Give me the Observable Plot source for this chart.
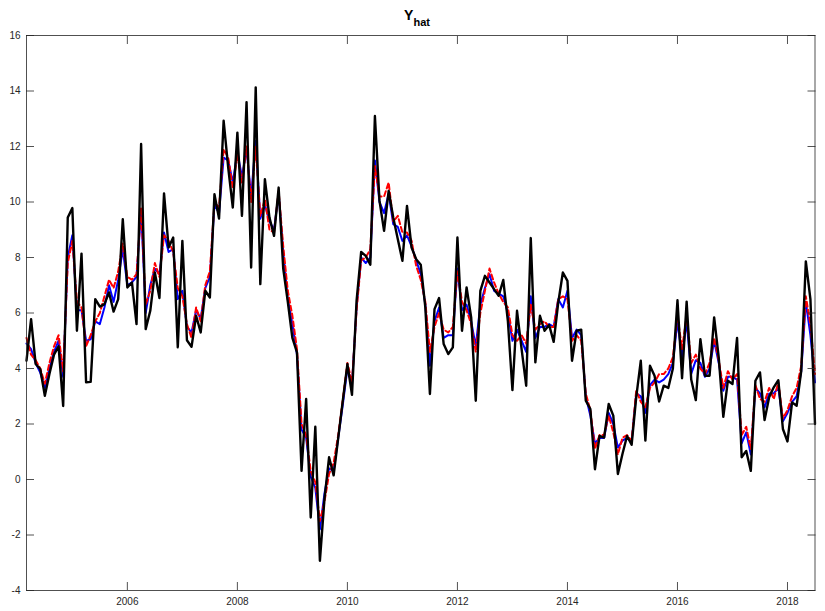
<!DOCTYPE html>
<html><head><meta charset="utf-8">
<script src="https://cdn.jsdelivr.net/npm/d3@7"></script>
<script src="https://cdn.jsdelivr.net/npm/@observablehq/plot@0.6"></script>
<style>body{margin:0;background:#fff;}#chart{width:825px;height:611px;}</style>
</head><body><div id="chart"></div>
<script>
// Monthly data, first observation March 2004
const startYear = 2004;
const startMonth = 3;

const actual = [4.28,5.78,4.16,3.98,3.02,3.8,4.5,4.8,2.65,9.44,
9.78,5.36,8.14,3.5,3.52,6.5,6.23,6.32,6.74,6.05,
6.5,9.38,6.92,7.1,5.6,12.09,5.42,6.08,7.46,6.54,
10.31,8.36,8.72,4.76,8.6,5.02,4.78,5.9,5.3,6.8,
6.56,10.28,9.4,12.93,11.24,9.8,12.5,9.5,13.6,7.64,
14.13,7.04,10.82,9.44,8.78,10.52,7.6,6.4,5.1,4.58,
0.31,2.9,-1.37,1.9,-2.93,-0.7,0.8,0.15,1.5,2.84,
4.16,3.05,6.44,8.2,8.06,7.74,13.1,10.04,8.96,10.4,
9.44,8.66,7.88,9.86,8.36,7.94,7.74,6.2,3.08,6.14,
6.54,4.88,4.52,4.76,8.72,5.36,6.92,5.84,2.84,6.8,
7.34,7.1,6.86,6.62,7.19,5.72,3.22,6.08,4.7,3.38,
8.7,4.22,5.9,5.36,5.57,4.96,6.38,7.46,7.16,4.28,
5.36,5.4,2.84,2.54,0.37,1.57,1.51,2.72,2.3,0.2,
0.92,1.57,1.25,2.96,4.28,1.4,4.1,3.74,2.81,3.38,
3.3,4.0,6.46,3.65,6.41,3.6,2.86,5.06,3.74,3.74,
5.84,4.4,2.26,3.56,3.44,5.1,0.8,1.03,0.31,3.56,
3.86,2.14,2.96,3.32,3.58,1.82,1.37,2.78,2.66,3.92,
7.86,6.5,2.0];

const fitBlue = [4.9,4.7,4.2,3.85,3.3,4.0,4.6,5.0,3.7,8.0,
8.8,6.1,6.1,5.0,5.05,5.7,5.6,6.2,7.0,6.4,
7.2,8.3,7.0,7.1,7.3,9.7,6.0,7.0,7.6,7.4,
8.9,8.2,8.3,6.5,6.8,5.5,5.3,6.1,5.8,6.9,
7.3,9.9,9.6,11.6,11.5,10.7,11.8,10.9,11.9,10.2,
12.2,9.4,9.9,9.3,9.0,10.3,8.2,6.5,5.6,4.5,
1.8,1.5,0.1,-0.3,-1.8,-0.5,0.4,0.3,1.5,2.7,
4.0,3.4,6.2,8.0,7.8,8.0,11.5,10.0,9.6,10.3,
9.2,9.1,8.6,8.8,8.4,7.9,7.4,6.3,4.1,5.7,
6.2,5.1,5.2,5.2,7.6,6.1,6.3,5.7,4.8,6.3,
6.9,7.4,6.8,6.7,6.6,6.0,5.0,5.4,5.0,4.6,
6.6,5.1,5.5,5.5,5.6,5.5,6.5,6.2,6.8,5.1,
5.4,5.2,3.0,2.3,1.3,1.5,1.5,2.4,2.0,1.15,
1.4,1.5,1.35,3.1,3.0,2.4,3.4,3.6,3.5,3.6,
3.8,4.2,5.7,4.4,5.7,3.8,4.3,4.2,3.7,4.0,
5.0,4.2,3.2,3.7,3.7,3.6,1.3,1.7,0.9,3.3,
3.1,2.6,3.1,3.1,3.3,2.1,2.4,2.8,3.0,3.9,
6.4,5.2,3.5];

const fitRed = [5.1,4.5,4.3,4.0,3.45,4.2,4.8,5.2,3.9,7.8,
8.6,6.4,6.2,4.8,5.2,5.7,6.0,6.6,7.2,6.9,
7.5,8.5,7.3,7.2,7.4,9.8,6.3,6.8,7.8,7.3,
8.8,8.6,8.2,6.9,6.6,5.6,5.1,6.2,5.7,7.0,
7.5,10.0,9.8,11.9,11.6,10.5,11.7,10.7,12.0,10.0,
12.0,9.5,10.1,9.0,8.9,10.4,8.4,6.8,5.9,4.7,
2.0,1.6,0.3,-0.1,-1.5,-0.8,0.2,0.6,1.6,2.9,
4.2,3.5,6.1,7.9,8.0,8.3,11.3,10.2,10.2,10.7,
9.3,9.5,8.9,8.9,8.6,7.7,7.2,6.4,4.6,5.5,
6.0,5.4,5.3,5.5,7.5,6.4,6.1,5.6,4.6,6.0,
6.8,7.6,7.1,6.7,6.4,6.2,5.2,5.0,5.2,4.9,
6.3,5.4,5.6,5.7,5.5,5.5,6.5,6.6,6.5,5.0,
5.2,5.0,3.1,2.5,1.1,1.6,1.6,2.3,1.7,0.9,
1.5,1.6,1.4,3.2,2.8,2.6,3.3,3.5,3.8,3.8,
4.0,4.4,5.9,4.7,5.9,4.2,4.5,4.0,3.8,4.2,
5.1,4.3,3.3,3.9,3.6,3.8,1.6,1.9,1.1,3.4,
2.9,2.8,3.3,2.9,3.5,2.2,2.5,3.0,3.3,4.1,
6.6,5.6,3.8];

const xTicks = [2006, 2008, 2010, 2012, 2014, 2016, 2018];
const yTicks = [-4, -2, 0, 2, 4, 6, 8, 10, 12, 14, 16];
const titleMain = "Y";
const titleSub = "hat";

const toRows = vals => vals.map((v, i) => ({t: startYear + (startMonth - 1 + i) / 12, v}));
const rowsBlack = toRows(actual);
const rowsBlue = toRows(fitBlue);
const rowsRed = toRows(fitRed);
const t0 = rowsBlack[0].t;
const t1 = rowsBlack[rowsBlack.length - 1].t;
const axisColor = "#262626";
const fmt = d => String(d);

const svg = Plot.plot({
  width: 825,
  height: 611,
  marginLeft: 26,
  marginRight: 10.5,
  marginTop: 35,
  marginBottom: 21,
  style: {fontFamily: "'Liberation Sans', Arial, Helvetica, sans-serif", fontSize: "10px", color: axisColor, background: "#ffffff"},
  x: {domain: [t0, t1], label: null},
  y: {domain: [-4, 16], label: null},
  marks: [
    Plot.line(rowsBlue, {x: "t", y: "v", stroke: "#0000ff", strokeWidth: 2}),
    Plot.line(rowsRed, {x: "t", y: "v", stroke: "#ff0000", strokeWidth: 2, strokeDasharray: "5,3"}),
    Plot.line(rowsBlack, {x: "t", y: "v", stroke: "#000000", strokeWidth: 2.4}),
    Plot.frame({stroke: axisColor, strokeWidth: 0.8}),
    Plot.axisX(xTicks, {anchor: "bottom", tickSize: -8, fill: "none", label: null, stroke: axisColor, strokeWidth: 0.8}),
    Plot.axisX(xTicks, {anchor: "top", tickSize: -8, fill: "none", label: null, stroke: axisColor, strokeWidth: 0.8}),
    Plot.axisY(yTicks, {anchor: "left", tickSize: -8, fill: "none", label: null, stroke: axisColor, strokeWidth: 0.8}),
    Plot.axisY(yTicks, {anchor: "right", tickSize: -8, fill: "none", label: null, stroke: axisColor, strokeWidth: 0.8}),
    Plot.axisX(xTicks, {anchor: "bottom", tickSize: 0, tickPadding: 7, tickFormat: fmt, label: null, fill: axisColor}),
    Plot.axisY(yTicks, {anchor: "left", tickSize: 0, tickPadding: 6, tickFormat: fmt, label: null, fill: axisColor})
  ]
});

const title = d3.select(svg).append("text")
  .attr("x", 417)
  .attr("y", 20)
  .attr("text-anchor", "middle")
  .attr("fill", "#000")
  .style("font-family", "'Liberation Sans', Arial, Helvetica, sans-serif")
  .style("font-weight", "bold");
title.append("tspan").attr("font-size", "14px").text(titleMain);
title.append("tspan").attr("font-size", "11px").attr("dy", 6).text(titleSub);

document.getElementById("chart").appendChild(svg);
</script>
</body></html>
